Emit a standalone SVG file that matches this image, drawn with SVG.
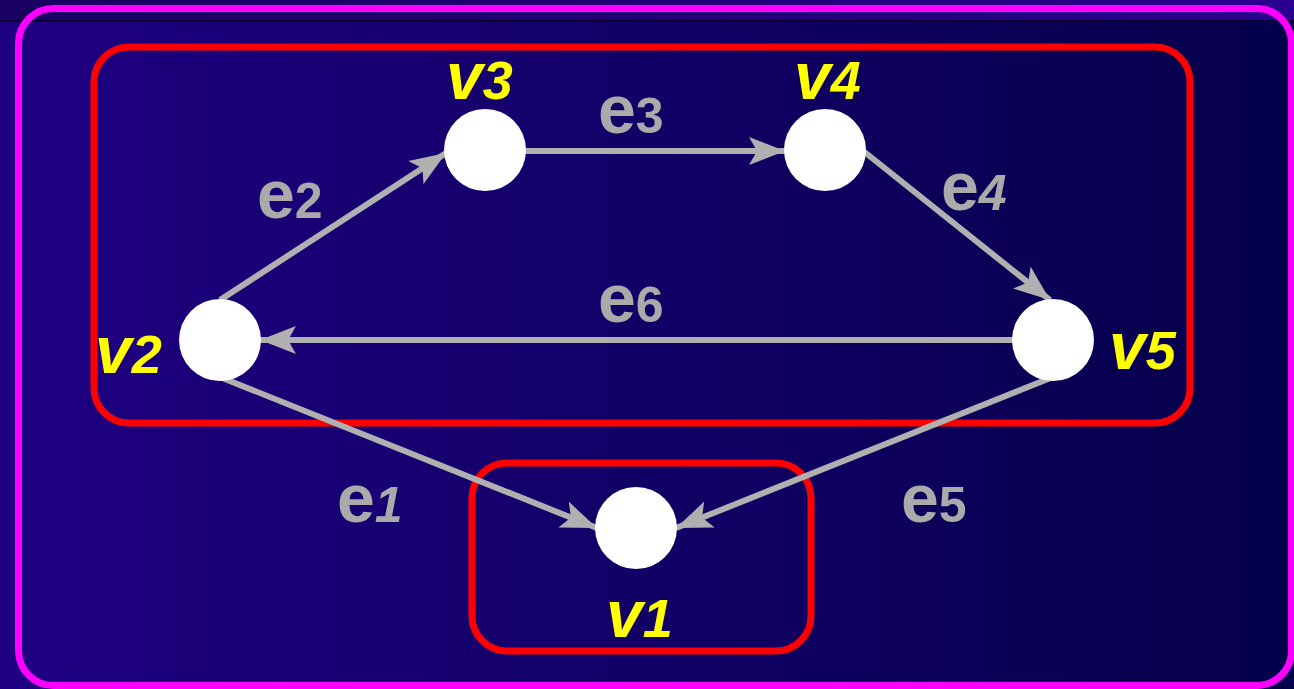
<svg xmlns="http://www.w3.org/2000/svg" width="1294" height="689" viewBox="0 0 1294 689">
<defs>
<linearGradient id="bg" x1="0" y1="0" x2="1" y2="0">
<stop offset="0" stop-color="#1f0082"/>
<stop offset="1" stop-color="#05004a"/>
</linearGradient>
<linearGradient id="strip" x1="0" y1="0" x2="1" y2="0">
<stop offset="0" stop-color="#1a0060"/>
<stop offset="1" stop-color="#2a0090"/>
</linearGradient>
<marker id="arr" markerUnits="userSpaceOnUse" markerWidth="38" markerHeight="32" viewBox="0 0 38 32" refX="36" refY="16" orient="auto">
<path d="M0,2 L36,16 L0,30 L8,16 Z" fill="#b0b0b0"/>
</marker>
</defs>
<style>
.node{fill:#ffffff}
.edge{stroke:#b0b0b0;stroke-width:6;fill:none;marker-end:url(#arr)}
.vl{font-family:"Liberation Sans",Arial,sans-serif;font-weight:bold;font-style:italic;fill:#ffff00}
.el{font-family:"Liberation Sans",Arial,sans-serif;font-weight:bold;fill:#aaaaaa}
.box{fill:none;stroke:#ff0000;stroke-width:7}
</style>
<rect x="0" y="0" width="1294" height="689" fill="url(#bg)"/>
<rect x="0" y="0" width="1294" height="21" fill="url(#strip)"/>
<rect x="0" y="20" width="1294" height="2" fill="#0a0030"/>
<rect x="18.5" y="8.5" width="1273" height="677" rx="35" fill="none" stroke="#ff00ff" stroke-width="7"/>
<g id="groups">
<rect class="box" x="94" y="47" width="1096" height="376" rx="35"/>
<rect class="box" x="472" y="463" width="339" height="188" rx="35"/>
</g>
<g id="connectors">
<line class="edge" x1="220" y1="300" x2="446" y2="153"/>
<line class="edge" x1="525" y1="151" x2="785" y2="151"/>
<line class="edge" x1="862" y1="150" x2="1050" y2="300"/>
<line class="edge" x1="1013" y1="340" x2="260" y2="340"/>
<line class="edge" x1="220" y1="377" x2="597" y2="528"/>
<line class="edge" x1="1053" y1="377" x2="676" y2="528"/>
</g>
<g id="edge-labels">
<text class="el" x="257" y="218"><tspan font-size="68">e</tspan><tspan font-size="50">2</tspan></text>
<text class="el" x="598" y="133"><tspan font-size="68">e</tspan><tspan font-size="50">3</tspan></text>
<text class="el" x="941" y="210"><tspan font-size="68">e</tspan><tspan font-size="50" font-style="italic">4</tspan></text>
<text class="el" x="598" y="322"><tspan font-size="68">e</tspan><tspan font-size="50">6</tspan></text>
<text class="el" x="337" y="522"><tspan font-size="68">e</tspan><tspan font-size="50" font-style="italic">1</tspan></text>
<text class="el" x="901" y="522"><tspan font-size="68">e</tspan><tspan font-size="50">5</tspan></text>
</g>
<g id="v3"><circle class="node" cx="485" cy="150" r="41"/><text class="vl" x="446" y="99"><tspan font-size="66">v</tspan><tspan font-size="54">3</tspan></text></g>
<g id="v4"><circle class="node" cx="825" cy="150" r="41"/><text class="vl" x="794" y="99"><tspan font-size="66">v</tspan><tspan font-size="54">4</tspan></text></g>
<g id="v2"><circle class="node" cx="220" cy="340" r="41"/><text class="vl" x="95" y="373"><tspan font-size="66">v</tspan><tspan font-size="54">2</tspan></text></g>
<g id="v5"><circle class="node" cx="1053" cy="340" r="41"/><text class="vl" x="1109" y="369"><tspan font-size="66">v</tspan><tspan font-size="54">5</tspan></text></g>
<g id="v1"><circle class="node" cx="636" cy="528" r="41"/><text class="vl" x="606" y="637"><tspan font-size="66">v</tspan><tspan font-size="54">1</tspan></text></g>
</svg>
